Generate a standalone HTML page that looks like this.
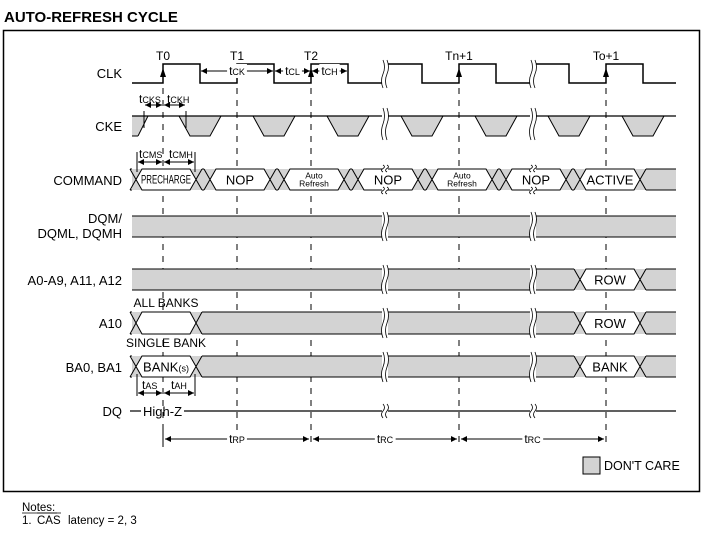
<!DOCTYPE html>
<html><head><meta charset="utf-8"><style>
body{margin:0;background:#fff;width:704px;height:535px;overflow:hidden}
svg{display:block;font-family:"Liberation Sans",Arial,sans-serif}
</style></head><body>
<svg id="c" width="704" height="535" viewBox="0 0 704 535">
<text x="4" y="22" font-size="15" font-weight="bold">AUTO-REFRESH CYCLE</text>
<rect x="3.5" y="30.5" width="696" height="461" fill="none" stroke="#000" stroke-width="1.5"/>
<g id="labels" font-size="13" text-anchor="end">
<text x="122" y="78">CLK</text>
<text x="122" y="131">CKE</text>
<text x="122" y="185">COMMAND</text>
<text x="122" y="223">DQM/</text>
<text x="122" y="238">DQML, DQMH</text>
<text x="122" y="285">A0-A9, A11, A12</text>
<text x="122" y="328">A10</text>
<text x="122" y="372">BA0, BA1</text>
<text x="122" y="416">DQ</text>
</g>
<g id="g"></g>
<rect x="583" y="457" width="17" height="17" fill="#d3d3d3" stroke="#000"/>
<text x="604" y="470" font-size="12.5">DON'T CARE</text>
<text x="22" y="511" font-size="11.5">Notes:</text>
<line x1="22" y1="513" x2="57" y2="513" stroke="#000" stroke-width="0.8"/>
<text x="22" y="524" font-size="11.5">1.</text>
<text x="37" y="524" font-size="11.5">CAS</text>
<line x1="37" y1="513" x2="61" y2="513" stroke="#000" stroke-width="0.8"/>
<text x="68" y="524" font-size="11.5">latency = 2, 3</text>
</svg>
<script>
const clockEdges=[163,237,311,459,606];
const clockNames=["T0","T1","T2","Tn+1","To+1"];
const clkRise=[163,237,311,388,459,535,606];
const clkFall=[200,274,348,422,496,569,643];
const breaks=[385,533];
const commands=[[136,196,"PRECHARGE"],[210,270,"NOP"],[284,344,"Auto|Refresh"],[358,418,"NOP"],[432,492,"Auto|Refresh"],[506,566,"NOP"],[580,640,"ACTIVE"]];
const rowSeg=[580,640,"ROW"];
const G=document.getElementById('g');
const NS='http://www.w3.org/2000/svg';
function el(t,a,p){const e=document.createElementNS(NS,t);for(const k in a)e.setAttribute(k,a[k]);(p||G).appendChild(e);return e;}
const X0=132,X1=676,GR='#d3d3d3';
clockEdges.forEach((x,i)=>{
 const l=el('line',{x1:x,y1:88,x2:x,y2:447,stroke:'#000','stroke-dasharray':'6,6'});
 
 
 const t=el('text',{x:x,y:60,'font-size':12,'text-anchor':'middle'});t.textContent=clockNames[i];
 
 
 el('path',{d:`M${x-3},${77} L${x},${68} L${x+3},${77}Z`});
});
const hi=64,lo=83;
let d=`M${X0},${lo}`;
for(let i=0;i<clkRise.length;i++){const r=clkRise[i],f=clkFall[i];
 if(breaks.some(b=>b<r&&r-b<6)){d+=` L${r-4},${lo} M${r},${hi}`;}else d+=` L${r},${lo} L${r},${hi}`;
 d+=` L${f},${hi} L${f},${lo}`;}
d+=` L${X1},${lo}`;
const clk=el('path',{d,fill:'none',stroke:'#000','stroke-width':1.5});


function arrow(x1,x2,y,lab){el('line',{x1,y1:y,x2,y2:y,stroke:'#000'});
 el('path',{d:`M${x1},${y} l6,-3 v6z M${x2},${y} l-6,-3 v6z`});
 if(lab){const t=el('text',{x:(x1+x2)/2,y:y+4,'font-size':12,'text-anchor':'middle'});t.innerHTML=lab;
 const b=t.getBBox();el('rect',{x:b.x-2,y:b.y,width:b.width+4,height:b.height,fill:'#fff'});G.appendChild(t);
 
 }}
arrow(201,273,71,'t<tspan font-size="9">CK</tspan>');
arrow(275,310,71,'t<tspan font-size="9">CL</tspan>');
arrow(312,347,71,'t<tspan font-size="9">CH</tspan>');
const ct=116,cb=136;
el('path',{d:`M${X0},${ct} L148,${ct} L138,${cb} L${X0},${cb}Z`,fill:GR,stroke:'none'});
el('line',{x1:148,y1:ct,x2:138,y2:cb,stroke:'#000'});el('line',{x1:X0,y1:cb,x2:138,y2:cb,stroke:'#000'});
clkFall.forEach(c=>{const p=el('path',{d:`M${c-21},${ct} L${c-10},${cb} L${c+10},${cb} L${c+21},${ct}Z`,fill:GR,stroke:'#000'});
 
 });
el('line',{x1:X0,y1:ct,x2:X1,y2:ct,stroke:'#000','stroke-width':1.2});
el('line',{x1:144,y1:ct-5,x2:144,y2:cb-8,stroke:'#000'});el('line',{x1:186,y1:ct-5,x2:186,y2:cb-8,stroke:'#000'});
arrow(145,162,105);arrow(164,185,105);
let t=el('text',{x:139,y:103,'font-size':12});t.innerHTML='t<tspan font-size="9">CKS</tspan>';
t=el('text',{x:167,y:103,'font-size':12});t.innerHTML='t<tspan font-size="9">CKH</tspan>';
function bus(segs,y1,y2,name){const m=(y1+y2)/2,s=6;
 el('path',{d:`M${X0},${y1} L${X1},${y1} L${X1},${y2} L${X0},${y2}Z`,fill:GR});
 let prev=X0;
 segs.forEach(([a,b,lab])=>{
  el('line',{x1:prev,y1:y1,x2:a-s,y2:y1,stroke:'#000'});el('line',{x1:prev,y1:y2,x2:a-s,y2:y2,stroke:'#000'});
  const h=el('path',{d:`M${a},${m} L${a+s},${y1} L${b-s},${y1} L${b},${m} L${b-s},${y2} L${a+s},${y2}Z`,fill:'#fff',stroke:'#000'});
  
  
  el('path',{d:`M${a-s},${y1} L${a},${m} L${a-s},${y2} M${b+s},${y1} L${b},${m} L${b+s},${y2}`,fill:'none',stroke:'#000'});
  if(lab){const ls=lab.split('|');
   if(ls.length>1){ls.forEach((w,k)=>{const tt=el('text',{x:(a+b)/2,y:m-1+k*8,'font-size':8.5,'text-anchor':'middle'});tt.textContent=w;});}
   else if(lab.length>6){const tt=el('text',{x:a+5,y:m+4,'font-size':12,'textLength':b-a-10,'lengthAdjust':'spacingAndGlyphs'});tt.textContent=lab;}
   else{const tt=el('text',{x:(a+b)/2,y:m+5,'font-size':13,'text-anchor':'middle'});tt.textContent=lab;}}
  prev=b+s;});
 el('line',{x1:prev,y1:y1,x2:X1,y2:y1,stroke:'#000'});el('line',{x1:prev,y1:y2,x2:X1,y2:y2,stroke:'#000'});
}
bus(commands,169,190,'command');
bus([],216,237,'dqm');
bus([rowSeg],269,290,'address');
bus([[136,196,''],[580,640,'ROW']],312,334,'a10');
bus([[136,196,'BANK'],[580,640,'BANK']],356,377,'bank');
t=el('text',{x:166,y:307,'font-size':12,'text-anchor':'middle'});t.textContent='ALL BANKS';
t=el('text',{x:166,y:347,'font-size':12,'text-anchor':'middle'});t.textContent='SINGLE BANK';
[...G.querySelectorAll('text')].filter(x=>x.textContent==='BANK'&&+x.getAttribute('x')<200).forEach(x=>{x.innerHTML='BANK<tspan font-size="9">(s)</tspan>';});
el('line',{x1:137,y1:152,x2:137,y2:172,stroke:'#000'});el('line',{x1:195,y1:152,x2:195,y2:172,stroke:'#000'});
arrow(138,162,162);arrow(164,194,162);
t=el('text',{x:139,y:158,'font-size':12});t.innerHTML='t<tspan font-size="9">CMS</tspan>';
t=el('text',{x:169,y:158,'font-size':12});t.innerHTML='t<tspan font-size="9">CMH</tspan>';
el('line',{x1:137,y1:374,x2:137,y2:396,stroke:'#000'});el('line',{x1:195,y1:374,x2:195,y2:396,stroke:'#000'});
arrow(138,162,393);arrow(164,194,393);
t=el('text',{x:142,y:389,'font-size':12});t.innerHTML='t<tspan font-size="9">AS</tspan>';
t=el('text',{x:171,y:389,'font-size':12});t.innerHTML='t<tspan font-size="9">AH</tspan>';
el('line',{x1:130,y1:411,x2:141,y2:411,stroke:'#000','stroke-width':1.2});
el('line',{x1:184,y1:411,x2:X1,y2:411,stroke:'#000','stroke-width':1.2});
t=el('text',{x:143,y:416,'font-size':13});t.textContent='High-Z';
el('line',{x1:163,y1:430,x2:163,y2:447,stroke:'#000'});
arrow(165,309,439,'t<tspan font-size="9">RP</tspan>');
arrow(313,457,439,'t<tspan font-size="9">RC</tspan>');
arrow(461,604,439,'t<tspan font-size="9">RC</tspan>');
breaks.forEach(b=>{[[60,88],[108,140],[165,172],[187,194],[212,241],[265,294],[308,338],[352,382],[404,418]].forEach(([y1,y2])=>{
 el('rect',{x:b-3,y:y1,width:6,height:y2-y1,fill:'#fff'});
 const w=`M${b-2},${y1} q3,${(y2-y1)/4} 0,${(y2-y1)/2} q-3,${(y2-y1)/4} 0,${(y2-y1)/2} M${b+2},${y1} q3,${(y2-y1)/4} 0,${(y2-y1)/2} q-3,${(y2-y1)/4} 0,${(y2-y1)/2}`;
 el('path',{d:w,fill:'none',stroke:'#000','stroke-width':0.8});});});
</script>
</body></html>
